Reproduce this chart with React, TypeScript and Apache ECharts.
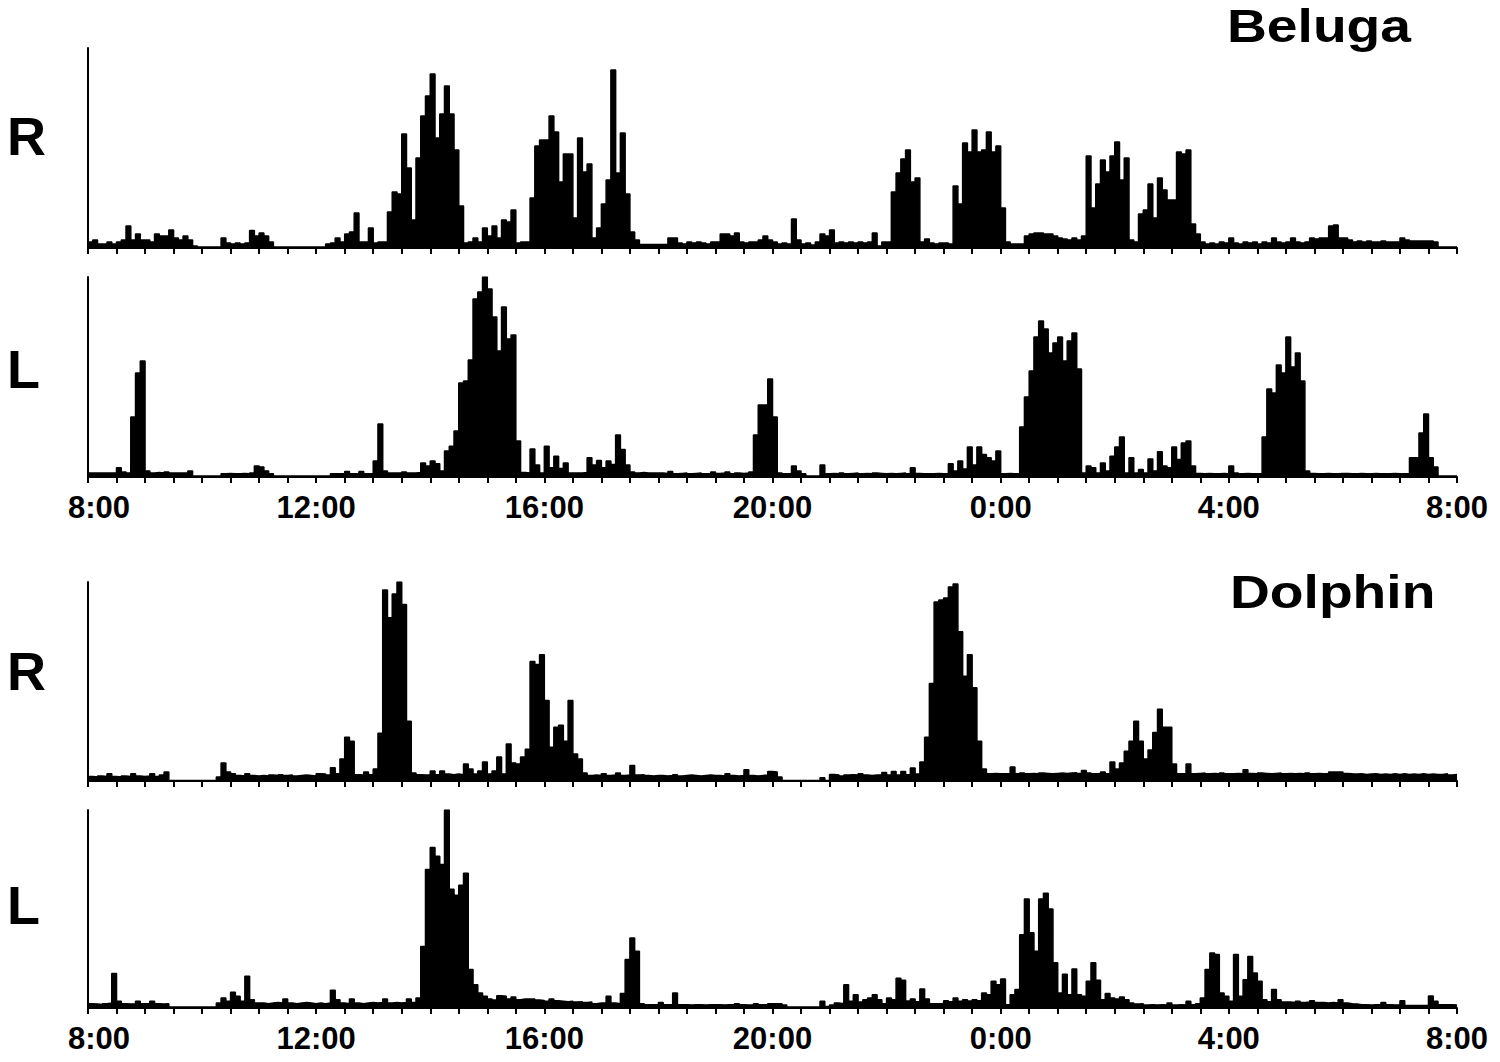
import React, { useEffect, useRef } from 'react';
import * as echarts from 'echarts';

// Time axis: hours since 8:00, labels every 4 h
const timeLabels = ['8:00', '12:00', '16:00', '20:00', '0:00', '4:00', '8:00'];
const binsPerHour = 12; // 5-minute bins

// Slow-wave activity, % of panel height, one row per hour (12 x 5-min bins)
const belugaR = [
  3,4,2,2,3,2,3,4,11,4,7,4,
  4,3,7,6,6,9,5,4,6,4,1,0.5,
  0.5,0.5,0.5,0.5,5,2.5,2,2.5,2,2.5,8.7,6,
  7.5,6,3,0.5,0.5,0.5,0.5,0.5,0.5,0.5,0.5,0.5,
  0.5,0.5,2,2.5,5,3,7,8,17.5,3,3,10,
  2.5,3,3,18,28,27,57,40,14,45,66,76,
  87,55,67,81,67,49,21,2.5,3,5,3,10,
  6,11,5,14,13,19,2.5,3,3,25,51,54,
  54,66,58,33,47,47,15,55,38,42,5,10,
  22,34,89,37.5,57.5,27,8,4,1.7,1.7,1.7,1.7,
  1.7,1.7,5,5,2.5,2,3,2.5,3,2.5,2,3,
  3,7,7,6,7.5,3,2.5,3,3,4,6,4,
  3,2,2.5,2,14.5,4,2,2.5,1.5,3,7,6,
  9,2.5,3,2.5,3,2.5,3,2.5,3,7.5,1,3,
  3,28,37.5,44.5,49,33,35,3,4.5,2.5,2,2.5,
  2.5,2,31,22,52.5,48,59,48,49,58,48,51,
  20,3,2,2,2,6,7,7.5,7.5,7,7,6,
  5,4.5,4,5,4,6,46,20,32,44,38,46,
  53,34,45,4,3,17,19,32,15,35,29,24,
  24,48,47,49,12,7,3,2,2.5,2,3,2.5,
  5,2.5,2,3,2.5,3,2,3,2.5,5,3,2.5,
  3,5,3,2.5,3,5,4.5,5,5,11,11.5,5,
  5,4,3,3.5,3,3.5,3,3,3.5,3,3,3,
  5,4,3.5,3.5,3.5,3.5,3.5,3,0.5,0.5,0.5,0.5,
];

const belugaL = [
  2,2,2,2,2,2,4.6,2.5,2,30,52,58,
  3,2,2.2,2,2.5,2,2,2,2,3,0.5,0.5,
  0.5,0.5,0.5,0.5,1.6,1.8,1.6,1.6,1.8,1.6,2,5.5,
  5,3,1.6,0.5,0.5,0.5,0.5,0.5,0.5,0.5,0.5,0.5,
  0.5,0.5,0.5,1.6,1.6,1.8,2.7,1.6,1.8,2.7,1.6,1.8,
  8,26.5,3,2,2,2,2.5,2,2,2.2,7,5.5,
  8,6.6,3,13,15.4,23,47,48,58.5,89,92.5,100,
  94,80,63,85,69,71,18,2.2,2,14,6,2,
  15.4,4.6,10.4,4.3,7,2,2,2,2.2,9.6,6,8.3,
  4.6,8,6.3,21,13.8,6,2.5,2,2.2,2,2,2,
  2,1.8,2.7,1.6,1.8,2,1.6,1.8,2,1.6,1.8,2.5,
  1.8,2,2.5,1.6,2,1.8,2,2.5,21,36,36,49,
  30,2,1.6,1.8,5.5,3,1.6,0.5,0.5,0.5,6,1.6,
  1.8,1.6,2,1.6,1.8,2,1.6,1.8,1.6,2,1.8,1.6,
  1.8,1.6,1.8,2,1.6,4.6,1.8,1.6,1.6,1.6,1.8,1.6,
  1.8,6.6,3,8,4,15,6,15,11.3,9.6,8,13,
  1.6,1.8,1.6,1.6,25,40,53,70,78,74,62,67,
  70,58,68,72,54,2,5.5,4.6,2,7,3,10.4,
  15,20,2,9.6,2,3.8,2,9,3,12.6,5.5,4.6,
  15,8.8,17,18,5.5,1.8,1.6,1.8,1.6,1.6,1.8,1.6,
  5.5,2,1.6,1.8,1.6,1.6,1.8,20,44,42,56,52,
  70,55,62,48,3,1.8,1.6,1.6,1.8,1.6,1.6,1.8,
  1.8,1.6,1.6,1.8,1.6,1.6,1.8,1.6,1.6,1.6,1.8,1.6,
  1.6,1.6,9.6,9.6,22,31.5,9.6,5,0.5,0.5,0.5,0.5,
];

const dolphinR = [
  2.3,2,2.5,2.3,3.7,2.3,2,2.5,2.3,3.7,2.5,2.3,
  2.5,3.7,2.3,3,4.5,0.3,0.3,0.3,0.3,0.3,0.3,0.3,
  0.3,0.3,0.3,2,9,4.5,3.7,2.8,2.5,3.7,2.8,2.5,
  2.8,2.5,3,2.8,3.2,2.8,3,2.5,2.8,3,2.8,2.5,
  3.7,3.5,3,6.6,3.7,11,22,20,3.2,3,4.5,3.2,
  6,24,96,82,94,100,88.7,30,4,3.2,3,3.2,
  5,3.2,5,3.5,3.2,3.5,3.2,8.6,6,3.5,5,9.5,
  3.5,5,12,3.5,18.6,9,8.6,12,16,60,58.5,63.5,
  40.5,17,27,28,20,40.5,13.6,11,4,2.8,3,2.8,
  3.7,2.8,3,4,2.8,3,7.8,3,3.2,2.8,2.5,2.8,
  2.8,2.5,2.8,3.2,2.5,2.8,3,2.8,2.5,2.8,3,2.8,
  2.8,2.5,3.7,2.8,2.5,2.8,5.6,2.8,2.5,2.8,3,4.8,
  4.5,2,0.3,0.3,0.3,0.3,0.3,0.3,0.3,0.3,1.6,0.3,
  3.3,3,2.5,3,3.2,3,3.7,3,2.8,3,3.2,4.3,
  3,4.8,3,4.8,3.2,6.5,3.5,9.5,22,49,90,91,
  92,97.5,99,75,52.7,63.5,46.8,20,6,3.6,3.8,3.6,
  3.6,3.8,7,3.6,4,3.6,3.8,3.6,4,3.8,3.6,3.8,
  4,3.8,4,4.2,3.8,5.3,4,3.6,3.8,4.5,3.6,9.5,
  6,9,15,20,30,20,11,15.6,24.4,36,27,27,
  8.6,3.6,3.8,8.6,3.6,3.8,4,3.6,3.8,3.6,4,3.6,
  3.6,3.8,3.6,5.6,3.8,3.6,4,3.8,3.6,3.8,4,3.6,
  3.8,3.6,3.8,3.6,4,3.6,3.8,3.6,3.8,4.5,4.5,4.5,
  3.8,3.6,3.5,3.6,3.3,3.5,3.6,3.3,3.5,3.3,3.6,3.3,
  3.6,3.3,3.5,3.3,3.6,3.3,3.5,3.3,3.3,3.6,3,3.3,
];

const dolphinL = [
  2.2,2,1.8,2.2,2.5,17.4,3.4,2.2,2,2.2,3.4,2.2,
  2.2,3.4,2.2,2,2.2,0.5,0.5,0.5,0.5,0.5,0.5,0.5,
  0.5,0.5,0.5,2.5,5,3.4,8,5.9,3.4,16,4.2,2.5,
  2.5,2.2,2.5,2.8,2.5,4.5,2.5,2.2,2.5,2.8,2.5,2.2,
  2.5,2.2,2.5,9,4.2,2.5,2.2,4.5,2.5,2.2,2.5,2.8,
  2.5,2.8,4.5,2.5,2.8,2.5,2.8,4.5,2.8,5,31,70,
  81,76.7,72.5,100,60,57,62,68,19.4,11.8,7.6,5.9,
  4.5,4,6.2,5.9,4.5,5.6,4.2,4.5,4.5,4.5,4,3.8,
  3.4,4.5,3.6,3.4,3.2,3.4,3,3.2,2.8,3,2.2,2.5,
  2.5,5.9,2.5,2.2,7.3,24.5,35.4,28.7,2.2,1.7,1.7,1.7,
  2.8,1.7,1.7,7.6,1.7,1.7,1.5,1.7,1.7,1.5,1.7,1.7,
  1.7,1.5,1.7,1.7,2.2,1.7,1.5,1.7,2.2,1.7,1.7,2.2,
  2.2,2.2,1.5,0.5,0.5,0.5,0.5,0.5,0.5,0.5,3.4,0.8,
  1.5,2.5,2.2,11.8,3.4,6.7,3,4.2,5,6.7,4.2,2.2,
  5,4.2,15,14,3.5,4.5,3.2,9.6,4.5,2.2,2.2,2.2,
  3.7,3.2,5,3.4,4.2,3.5,4.2,3.6,7.6,6.7,13.5,11.8,
  14.7,1.7,6.7,9.3,37,55,38,28.7,55,58,50,22.8,
  7.6,17,6.7,19.7,6.7,5.9,13.5,22.8,14,4.2,7.3,5,
  4.5,5.5,4.2,2.5,2,2.2,1.5,1.7,1.5,1.7,1.5,2.5,
  1.5,1.7,1.5,3.4,1.7,2.2,5,19.4,27.8,27,7.6,5.9,
  3.4,27,5.9,14.3,26,17.7,13.5,4.2,3.2,9.3,4.2,3,
  3,2.8,3.4,2.8,3,3.7,2.8,2.8,2.5,2.8,2.5,4.2,
  2.5,2.2,2,1.7,1.7,1.5,1.7,1.7,2.8,1.7,1.5,1.7,
  3.7,1.2,1.2,1.2,1.2,1.2,6,3.4,1.7,1.7,1.7,1.5,
];

const seriesList = [belugaR, belugaL, dolphinR, dolphinL];
const hemisphereLabels = ['R', 'L', 'R', 'L'];
const speciesTitles = ['Beluga', 'Dolphin'];

// layout (px)
const panelLayout = [
  { top: 48, height: 200, showLabels: false, labelY: 136 },
  { top: 277, height: 200, showLabels: true, labelY: 369 },
  { top: 582, height: 199, showLabels: false, labelY: 671 },
  { top: 810, height: 198, showLabels: true, labelY: 905 },
];
const titleLayout = [
  { x: 1227, y: 26 },
  { x: 1230, y: 592 },
];

const FONT = '"Liberation Sans", Arial, Helvetica, sans-serif';

function toSteps(vals: number[]) {
  const pts: number[][] = vals.map((v, i) => [i / binsPerHour, v]);
  pts.push([vals.length / binsPerHour, vals[vals.length - 1]]);
  return pts;
}

export default function App() {
  const ref = useRef<HTMLDivElement>(null);
  useEffect(() => {
    document.body.style.margin = '0';
    if (!ref.current) return;
    const chart = echarts.init(ref.current, undefined, { renderer: 'svg' });
    const grids = panelLayout.map((p) => ({ left: 88, right: 43, top: p.top, height: p.height }));
    const xAxes = panelLayout.map((p, i) => ({
      type: 'value',
      gridIndex: i,
      min: 0,
      max: 24,
      interval: 4,
      axisLine: { show: true, onZero: false, lineStyle: { color: '#000', width: 2 } },
      axisTick: { show: true, length: 6, lineStyle: { color: '#000', width: 2 } },
      minorTick: { show: true, splitNumber: 8, length: 6, lineStyle: { color: '#000', width: 2 } },
      splitLine: { show: false },
      minorSplitLine: { show: false },
      axisLabel: {
        show: p.showLabels,
        margin: 15,
        color: '#000',
        fontSize: 31,
        fontWeight: 'bold',
        fontFamily: FONT,
        formatter: (v: number) => {
          const t = timeLabels[Math.round(v / 4)];
          return v === 0 ? '{first|' + t + '}' : t;
        },
        rich: {
          first: { fontSize: 31, fontWeight: 'bold', fontFamily: FONT, color: '#000', padding: [0, 0, 0, 22] },
        },
      },
    }));
    const yAxes = panelLayout.map((p, i) => ({
      type: 'value',
      gridIndex: i,
      min: 0,
      max: 100,
      axisLine: { show: true, lineStyle: { color: '#000', width: 2 } },
      axisTick: { show: false },
      axisLabel: { show: false },
      splitLine: { show: false },
    }));
    const series = seriesList.map((vals, i) => ({
      type: 'line',
      xAxisIndex: i,
      yAxisIndex: i,
      data: toSteps(vals),
      step: 'end',
      symbol: 'none',
      silent: true,
      lineStyle: { color: '#000', width: 1.5 },
      areaStyle: { color: '#000', opacity: 1 },
    }));
    const texts: any[] = [];
    panelLayout.forEach((p, i) => {
      texts.push({
        type: 'text',
        x: 7,
        y: p.labelY,
        style: { text: hemisphereLabels[i], fontSize: 54, fontWeight: 'bold', fontFamily: FONT, fill: '#000', align: 'left', verticalAlign: 'middle' },
      });
    });
    titleLayout.forEach((t, i) => {
      texts.push({
        type: 'text',
        x: t.x,
        y: t.y,
        scaleX: 1.2,
        style: { text: speciesTitles[i], fontSize: 46, fontWeight: 'bold', fontFamily: FONT, fill: '#000', align: 'left', verticalAlign: 'middle' },
      });
    });
    chart.setOption({
      animation: false,
      backgroundColor: '#fff',
      grid: grids,
      xAxis: xAxes,
      yAxis: yAxes,
      series,
      graphic: texts,
    });
    return () => chart.dispose();
  }, []);
  return <div ref={ref} style={{ position: 'absolute', left: 0, top: 0, width: 1500, height: 1062 }} />;
}
